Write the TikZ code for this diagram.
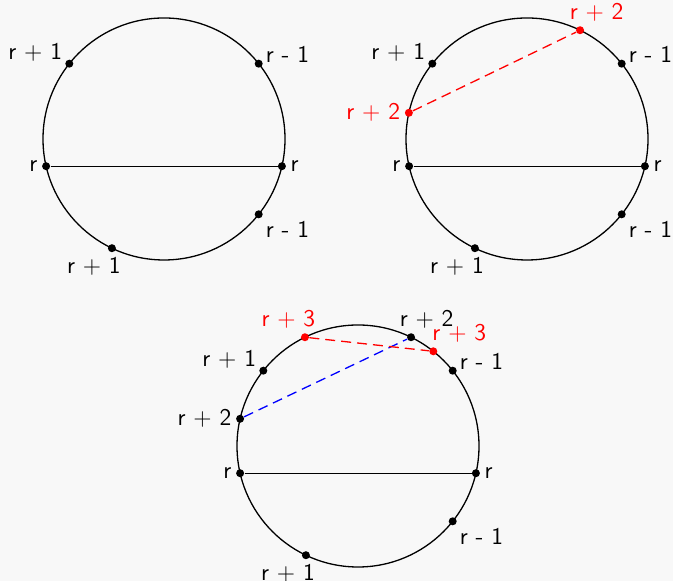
\documentclass[tikz,border=0pt]{standalone}
\usepackage{tikz}
\definecolor{paper}{RGB}{248,248,248}
\tikzset{
  rim/.style={line width=0.65pt,black},
  chord/.style={line width=0.65pt,black},
  redlink/.style={line width=0.65pt,red,dash pattern=on 5pt off 3pt},
  bluelink/.style={line width=0.65pt,blue,dash pattern=on 5pt off 3pt},
  dot/.style={circle,fill=black,inner sep=0pt,minimum size=4pt},
  reddot/.style={dot,fill=red},
  every label/.style={font=\sffamily\fontsize{12}{14}\selectfont,inner sep=1.5pt},
  label distance=0.5pt
}

\begin{document}
\begin{tikzpicture}[x=0.5pt,y=0.5pt]
  \path[fill=paper,use as bounding box] (0,0) rectangle (673,581);

  % first circle
  \begin{scope}[shift={(164,442)}]
    \coordinate (o1) at (0,0);
    \draw[rim] (o1) circle[radius=60.5pt];
    \node[dot,label=left:r] (a1) at (193:121) {};
    \node[dot,label=right:r] (a2) at (-13:121) {};
    \node[dot,label={[yshift=-2.5pt]above left:r + 1}] (a3) at (141.5:121) {};
    \node[dot,label={[yshift=-3pt]above right:r - 1}] (a4) at (38.5:121) {};
    \node[dot,label=below right:r - 1] (a5) at (-38.5:121) {};
    \node[dot,label={[xshift=-9pt]below:r + 1}] (a6) at (244.5:121) {};
    \draw[chord] (a1) -- (a2);
  \end{scope}

  % second circle
  \begin{scope}[shift={(527,442)}]
    \coordinate (o2) at (0,0);
    \draw[rim] (o2) circle[radius=60.5pt];
    \node[dot,label=left:r] (b1) at (193:121) {};
    \node[dot,label=right:r] (b2) at (-13:121) {};
    \node[dot,label={[yshift=-2.5pt]above left:r + 1}] (b3) at (141.5:121) {};
    \node[dot,label={[yshift=-3pt]above right:r - 1}] (b4) at (38.5:121) {};
    \node[dot,label=below right:r - 1] (b5) at (-38.5:121) {};
    \node[dot,label={[xshift=-9pt]below:r + 1}] (b6) at (244.5:121) {};
    \node[reddot,label={[red,xshift=8.3pt]above:r + 2}] (b7) at (64:121) {};
    \node[reddot,label={[red]left:r + 2}] (b8) at (167.5:121) {};
    \draw[chord] (b1) -- (b2);
    \draw[redlink] (b8) -- (b7);
  \end{scope}

  % third circle
  \begin{scope}[shift={(358,135)}]
    \coordinate (o3) at (0,0);
    \draw[rim] (o3) circle[radius=60.5pt];
    \node[dot,label=left:r] (c1) at (193:121) {};
    \node[dot,label=right:r] (c2) at (-13:121) {};
    \node[dot,label={[yshift=-2.5pt]above left:r + 1}] (c3) at (141.5:121) {};
    \node[dot,label={[yshift=-3pt]above right:r - 1}] (c4) at (38.5:121) {};
    \node[dot,label=below right:r - 1] (c5) at (-38.5:121) {};
    \node[dot,label={[xshift=-9pt]below:r + 1}] (c6) at (244.5:121) {};
    \node[dot,label={[xshift=7.8pt]above:r + 2}] (c7) at (64:121) {};
    \node[dot,label=left:r + 2] (c8) at (167:121) {};
    \node[reddot,label={[red,xshift=-8.3pt]above:r + 3}] (c9) at (116:121) {};
    \node[reddot,label={[red,xshift=13pt]above:r + 3}] (c10) at (51.5:121) {};
    \draw[chord] (c1) -- (c2);
    \draw[bluelink] (c8) -- (c7);
    \draw[redlink] (c9) -- (c10);
  \end{scope}
\end{tikzpicture}
\end{document}
